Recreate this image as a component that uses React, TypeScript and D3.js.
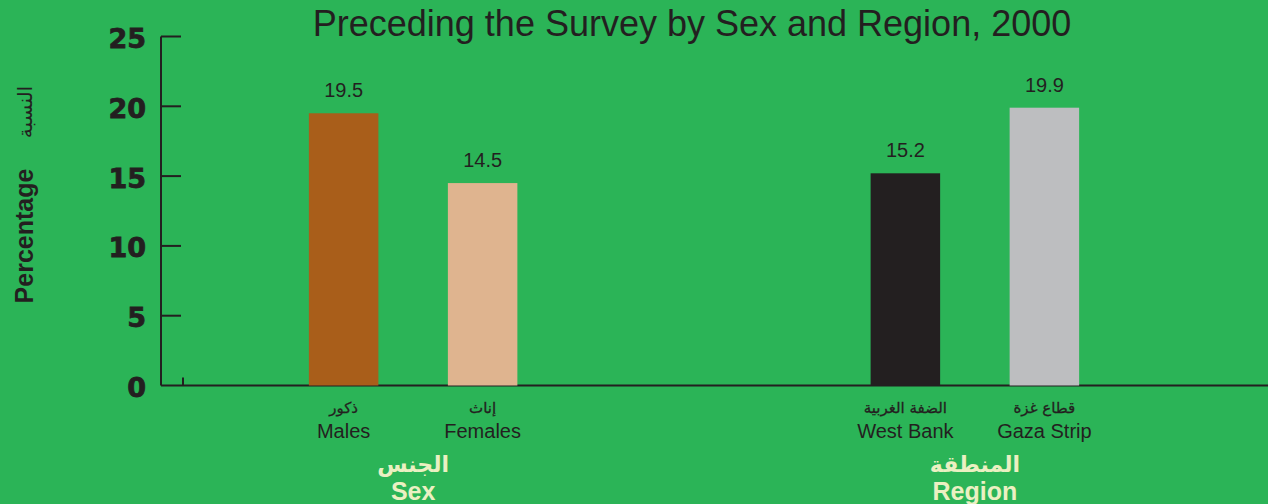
import React from "react";
import * as d3 from "d3";

// chart data
const groups = ["Sex", "Region"];
const groupsAr = ["الجنس", "المنطقة"];
const categories = ["Males", "Females", "West Bank", "Gaza Strip"];
const categoriesAr = ["ذكور", "إناث", "الضفة الغربية", "قطاع غزة"];
const categoryGroup = ["Sex", "Sex", "Region", "Region"];
const values = [19.5, 14.5, 15.2, 19.9];
const barColors = ["#a95e1a", "#dfb48f", "#231f20", "#bdbec0"];
const yTicks = [0, 5, 10, 15, 20, 25];

const W = 1268;
const H = 504;
const BG = "#2bb457";
const INK = "#231f20";
const CREAM = "#ebf0c2";
const SANS = "'Liberation Sans', Arial, sans-serif";
const AR = "'DejaVu Sans', sans-serif";

export default function App() {
    const y = d3.scaleLinear().domain([0, 25]).range([385.5, 36.5]);

    // outer scale: one band per group
    const outer = d3.scaleBand<string>().domain(groups).range([132.25, 1255.75]);
    const bw = outer.bandwidth();
    // inner scales: categories inside a group
    const inner: Record<string, d3.ScaleBand<string>> = {};
    groups.forEach((g) => {
        inner[g] = d3
            .scaleBand<string>()
            .domain(categories.filter((_, i) => categoryGroup[i] === g))
            .range([bw / 2 - 139, bw / 2 + 139])
            .paddingInner(0.5)
            .paddingOuter(0.25);
    });

    const barX = (i: number) => (outer(categoryGroup[i]) ?? 0) + (inner[categoryGroup[i]](categories[i]) ?? 0);
    const barW = (i: number) => inner[categoryGroup[i]].bandwidth();
    const axisX = 161;

    return (
        <svg width={W} height={H} style={{ position: "fixed", left: 0, top: 0 }}>
            <rect width={W} height={H} fill={BG} />

            <text x={692} y={36} textAnchor="middle" fontFamily={SANS} fontSize={36} fill={INK}>
                Preceding the Survey by Sex and Region, 2000
            </text>

            {/* y axis */}
            <line x1={axisX} x2={axisX} y1={y(25)} y2={y(0)} stroke={INK} strokeWidth={2} />
            {yTicks.map((t) => (
                <g key={t}>
                    {t > 0 && <line x1={axisX} x2={axisX + 20} y1={y(t)} y2={y(t)} stroke={INK} strokeWidth={2} />}
                    <text
                        x={146}
                        y={y(t) + 2}
                        textAnchor="end"
                        dominantBaseline="central"
                        fontFamily="'DejaVu Sans', sans-serif"
                        fontWeight="bold"
                        fontSize={27}
                        fill={INK}
                        stroke={INK}
                        strokeWidth={0.8}
                    >
                        {t}
                    </text>
                </g>
            ))}
            <line x1={axisX} x2={W} y1={y(0)} y2={y(0)} stroke={INK} strokeWidth={2} />
            <line x1={183} x2={183} y1={y(0) - 8} y2={y(0)} stroke={INK} strokeWidth={2} />

            {/* y axis title */}
            <text
                transform="translate(33,236) rotate(-90)"
                textAnchor="middle"
                fontFamily={SANS}
                fontWeight="bold"
                fontSize={25}
                fill={INK}
            >
                Percentage
            </text>
            <text transform="translate(32,112) rotate(-90)" textAnchor="middle" fontFamily={AR} fontSize={20} fill={INK}>
                النسبة
            </text>

            {/* bars */}
            {values.map((v, i) => (
                <g key={categories[i]}>
                    <rect x={barX(i)} y={y(v)} width={barW(i)} height={y(0) - y(v)} fill={barColors[i]} />
                    <text
                        x={barX(i) + barW(i) / 2}
                        y={y(v) - 16}
                        textAnchor="middle"
                        fontFamily={SANS}
                        fontSize={20}
                        fill={INK}
                    >
                        {v.toFixed(1)}
                    </text>
                    <text
                        x={barX(i) + barW(i) / 2}
                        y={413}
                        textAnchor="middle"
                        fontFamily={AR}
                        fontSize={15}
                        fill={INK}
                        stroke={INK}
                        strokeWidth={0.3}
                    >
                        {categoriesAr[i]}
                    </text>
                    <text x={barX(i) + barW(i) / 2} y={438} textAnchor="middle" fontFamily={SANS} fontSize={20} fill={INK}>
                        {categories[i]}
                    </text>
                </g>
            ))}

            {/* group labels */}
            {groups.map((g, i) => (
                <g key={g}>
                    <text
                        x={(outer(g) ?? 0) + bw / 2}
                        y={472}
                        textAnchor="middle"
                        fontFamily={AR}
                        fontWeight="bold"
                        fontSize={22}
                        fill={CREAM}
                    >
                        {groupsAr[i]}
                    </text>
                    <text
                        x={(outer(g) ?? 0) + bw / 2}
                        y={500}
                        textAnchor="middle"
                        fontFamily={SANS}
                        fontWeight="bold"
                        fontSize={25}
                        fill={CREAM}
                    >
                        {g}
                    </text>
                </g>
            ))}
        </svg>
    );
}
